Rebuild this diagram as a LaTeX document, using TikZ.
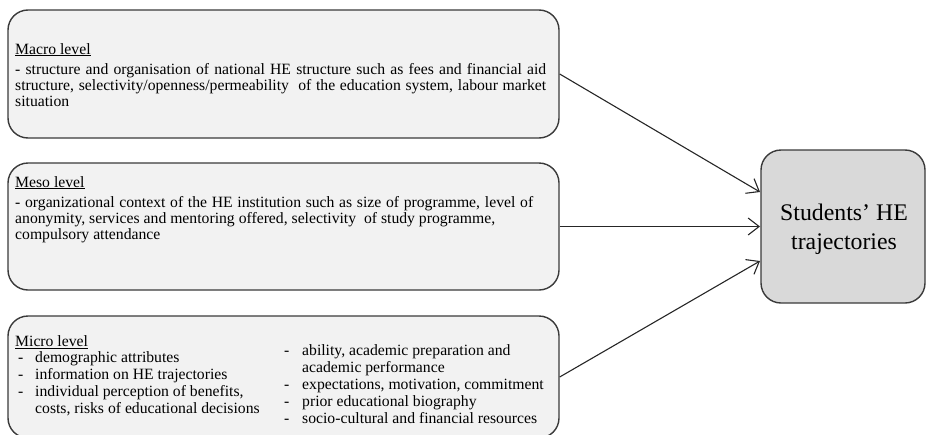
\documentclass[tikz,border=0pt]{standalone}
\usepackage{fontspec}
\setmainfont{Liberation Serif}
\usetikzlibrary{arrows.meta}

\definecolor{boxfill}{HTML}{F2F2F2}
\definecolor{targetfill}{HTML}{D9D9D9}
\definecolor{boxline}{HTML}{3A3A3A}

\tikzset{
  levelbox/.style={draw=boxline, fill=boxfill, rounded corners=20pt, line width=1.4pt, inner sep=0pt, minimum width=551pt},
  targetbox/.style={draw=boxline, fill=targetfill, rounded corners=20pt, line width=1.4pt, inner sep=0pt},
  boxtext/.style={anchor=north west, inner sep=0pt, font=\fontsize{15.7}{16}\selectfont, align=justify},
  listtext/.style={anchor=north west, inner sep=0pt, font=\fontsize{15.7}{17}\selectfont},
  flow/.style={-{Straight Barb[length=11pt,width=17pt,line width=1.1pt]}, line width=1.1pt, color=black!85}
}

\begin{document}
\begin{tikzpicture}[x=1pt,y=-1pt]
\useasboundingbox (0,0) rectangle (926,434);

%level boxes
\node[levelbox, minimum height=128pt] at (283.5,74) (macro){};
\node[levelbox, minimum height=127pt] at (283.5,226.5) (meso){};
\node[levelbox, minimum height=122pt] at (283.5,377) (micro){};

%outcome
\node[targetbox, minimum width=164pt, minimum height=153pt] at (843,226.5) (target){};
\node[font=\fontsize{23.8}{29}\selectfont, align=center] at (844,229) (targettext){Students’ HE\\trajectories};

%texts
\node[boxtext, text width=531pt] at (15,43) (macrotext){\underline{Macro level}\\[4pt]
- structure and organisation of national HE structure such as fees and financial aid\linebreak
structure, selectivity/openness/permeability\ \ of the education system, labour market\linebreak
situation};

\node[boxtext, text width=518pt] at (15,176) (mesotext){\underline{Meso level}\\[4pt]
- organizational context of the HE institution such as size of programme, level of\linebreak
anonymity, services and mentoring offered, selectivity\ \ of study programme,\newline
compulsory attendance};

\node[boxtext] at (15,335.5) (microtitle){\underline{Micro level}};

\node[listtext] at (18,350) (microleft){\begin{tabular}{@{}p{10pt}@{\hspace{7pt}}l@{}}
- & demographic attributes\\
- & information on HE trajectories\\
- & individual perception of benefits,\\
  & costs, risks of educational decisions
\end{tabular}};

\node[listtext] at (284,343.5) (microright){\begin{tabular}{@{}p{10pt}@{\hspace{8pt}}l@{}}
- & ability, academic preparation and\\
  & academic performance\\
- & expectations, motivation, commitment\\
- & prior educational biography\\
- & socio-cultural and financial resources
\end{tabular}};

%arrows
\coordinate (in1) at (760,192);
\coordinate (in2) at (760,226.5);
\coordinate (in3) at (760,261);
\draw[flow] (macro.east) -- (in1);
\draw[flow] (meso.east) -- (in2);
\draw[flow] (micro.east) -- (in3);

\end{tikzpicture}
\end{document}
